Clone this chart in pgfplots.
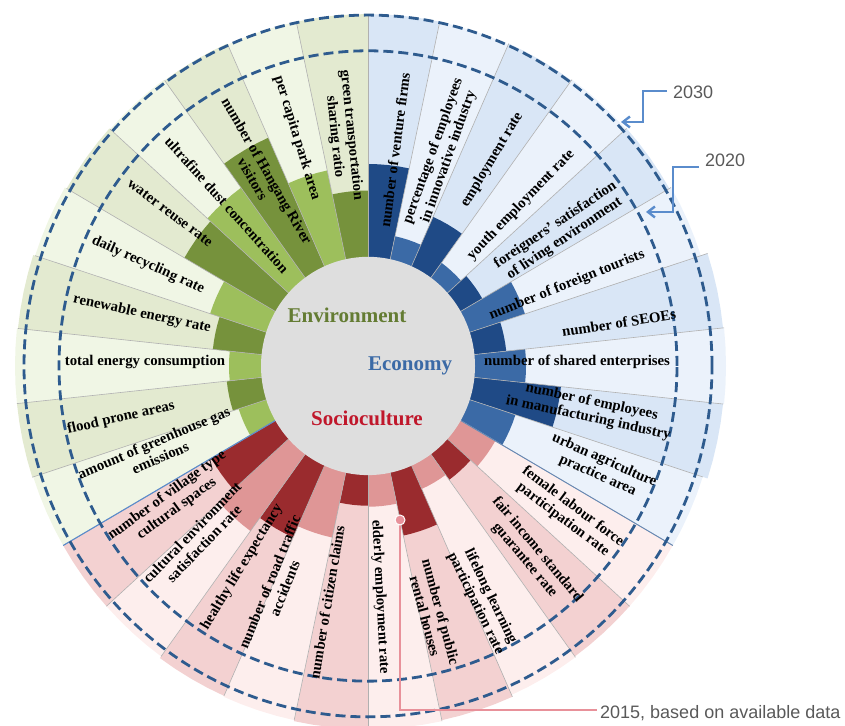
\documentclass[border=0pt]{standalone}
\usepackage{pgfplots}
\usepackage{pgfplotstable}
\usepackage{fontspec}
\setmainfont{Liberation Serif}
\newfontfamily\annfont{Liberation Sans}
\usetikzlibrary{arrows.meta}
\pgfplotsset{compat=1.18}

\definecolor{ecoD}{HTML}{1F4A86}
\definecolor{ecoM}{HTML}{3B6AA6}
\definecolor{ecoA}{HTML}{D9E6F6}
\definecolor{ecoB}{HTML}{EBF2FB}
\definecolor{socD}{HTML}{9A2B2E}
\definecolor{socM}{HTML}{DF9696}
\definecolor{socA}{HTML}{F3D1D1}
\definecolor{socB}{HTML}{FDEEED}
\definecolor{envD}{HTML}{76923C}
\definecolor{envM}{HTML}{9DBF5C}
\definecolor{envA}{HTML}{E3EAD0}
\definecolor{envB}{HTML}{F0F6E5}
\definecolor{sepgray}{HTML}{B0B0B0}
\definecolor{ringblue}{HTML}{2E5B8E}
\definecolor{callblue}{HTML}{5A8CCC}
\definecolor{callpink}{HTML}{E8919A}
\definecolor{centergray}{HTML}{DEDEDE}
\definecolor{anngray}{HTML}{595959}

% sector centre angle, 2015 bar radius, outer radius, cell colour, bar colour
\pgfplotstableread{
ang  r    ro   bg   bar
84   198  345  ecoA ecoD
72   130  345  ecoB ecoM
60   160  346  ecoA ecoD
48   125  347  ecoB ecoM
36   132  348  ecoA ecoD
24   165  350  ecoB ecoM
12   139  357  ecoA ecoD
0    158  358  ecoB ecoM
-12  194  357  ecoA ecoD
-24  155  352  ecoB ecoM
-36  147  352  socB socM
-48  138  352  socA socD
-60  132  353  socB socM
-72  170  355  socA socD
-84  138  356  socB socM
-96  137  356  socA socD
-108 172  355  socB socM
-120 184  354  socA socD
-132 200  352  socB socM
-144 181  352  socA socD
204  136  352  envB envM
192  142  353  envA envD
180  139  353  envB envM
168  156  352  envA envD
156  166  350  envB envM
144  212  348  envA envD
132  216  347  envB envM
120  245  346  envA envD
108  196  345  envB envM
96   172  345  envA envD
}\sectors

\begin{document}
\begin{tikzpicture}
\begin{axis}[
    name=ax,
    hide axis,
    x=1pt, y=1.02pt,
    xmin=-368, xmax=477,
    ymin=-352.9, ymax=358.8,
    clip=false,
]
% cells and 2015 bars
\pgfplotsinvokeforeach{0,...,29}{%
  \pgfplotstablegetelem{#1}{ang}\of\sectors\let\ang\pgfplotsretval
  \pgfplotstablegetelem{#1}{r}\of\sectors\let\rb\pgfplotsretval
  \pgfplotstablegetelem{#1}{ro}\of\sectors\let\ro\pgfplotsretval
  \pgfplotstablegetelem{#1}{bg}\of\sectors\let\bgc\pgfplotsretval
  \pgfplotstablegetelem{#1}{bar}\of\sectors\let\barc\pgfplotsretval
  \pgfmathsetmacro\aa{\ang+6}\pgfmathsetmacro\ab{\ang-6}%
  \pgfmathsetmacro\am{\ang+3}\pgfmathsetmacro\an{\ang-3}%
  \edef\tmp{%
    \noexpand\addplot[draw=none,fill=\bgc,data cs=polar] coordinates
      {(0,0) (\aa,\ro) (\am,\ro) (\ang,\ro) (\an,\ro) (\ab,\ro)};
    \noexpand\addplot[draw=none,fill=\barc,data cs=polar] coordinates
      {(\aa,100) (\aa,\rb) (\am,\rb) (\ang,\rb) (\an,\rb) (\ab,\rb) (\ab,100)};
  }\tmp
}
% sector separators
\pgfplotsinvokeforeach{0,...,29}{%
  \pgfplotstablegetelem{#1}{ang}\of\sectors\let\ang\pgfplotsretval
  \pgfplotstablegetelem{#1}{ro}\of\sectors\let\ro\pgfplotsretval
  \pgfmathsetmacro\aa{\ang+6}%
  \edef\tmp{%
    \noexpand\addplot[draw=sepgray,line width=0.6pt,data cs=polar] coordinates
      {(\aa,107) (\aa,\ro)};
  }\tmp
}
\addplot[draw=callblue,line width=1.1pt,data cs=polar] coordinates {(210,107) (210,352)};
\addplot[draw=callblue!70!gray,line width=0.9pt,data cs=polar] coordinates {(-30,107) (-30,352)};

% 2020 and 2030 rings
\draw[ringblue,line width=2.8pt,dash pattern=on 10pt off 5pt] (axis cs:0,0) circle[radius=309];
\draw[ringblue,line width=2.8pt,dash pattern=on 10pt off 5pt] (axis cs:0,0) circle[radius=344];

% centre disc
\fill[centergray] (axis cs:0,0) circle[radius=107];
\node[font=\fontsize{21}{22}\selectfont\bfseries,text=envD!85!black] at (axis cs:-21,50) {Environment};
\node[font=\fontsize{21}{22}\selectfont\bfseries,text=ecoM] at (axis cs:42,0) {Economy};
\node[font=\fontsize{21}{22}\selectfont\bfseries,text={rgb,255:red,192;green,23;blue,43}] at (axis cs:-1,-51) {Socioculture};

% indicator labels: x, y, rotation, text
\foreach \px/\py/\rot/\t in {
  27/211.8/82.5/{number of venture firms},
  73/207.8/70.4/{percentage of employees\\in innovative industry},
  124/202/59/{employment rate},
  153/157.8/46/{youth employment rate},
  192/131.4/34/{foreigners' satisfaction\\of living environment},
  199/79.4/22/{number of foreign tourists},
  251/42.2/9/{number of SEOEs},
  209/3.9/0/{number of shared enterprises},
  222/-43.1/-12/{number of employees\\in manufacturing industry},
  233/-100/-24/{urban agriculture\\practice area},
  200/-144.1/-37/{female labour force\\participation rate},
  163/-185.3/-50/{fair income standard\\guarantee rate},
  115/-229.4/-64/{lifelong learning\\participation rate},
  65/-243.1/-75/{number of public\\rental houses},
  12/-226.5/-87/{elderly employment rate},
  -41/-231.4/80.5/{number of citizen claims},
  -91/-214.7/68/{number of road traffic\\accidents},
  -126/-197/58.6/{healthy life expectancy},
  -170/-168.6/46/{cultural environment\\satisfaction rate},
  -196/-133.3/36/{number of village type\\cultural spaces},
  -211/-82.4/23/{amount of greenhouse gas\\emissions},
  -247/-51/13/{flood prone areas},
  -223/3.9/0/{total energy consumption},
  -226/51/-12/{renewable energy rate},
  -220/99/-24/{daily recycling rate},
  -198/150/-37/{water reuse rate},
  -141/157.8/-48/{ultrafine dust concentration},
  -108/187.3/-60/{number of Hangang River\\visitors},
  -71/223.5/-73/{per capita park area},
  -25/225.5/-84/{green transportation\\sharing ratio}}{
  \edef\tmp{\noexpand\node[font=\noexpand\fontsize{14.8}{16.5}\noexpand\selectfont\noexpand\bfseries,
    align=center,inner sep=0pt,rotate=\rot] at (axis cs:\px,\py) {\unexpanded\expandafter{\t}};}%
  \tmp
}

% call-outs
\draw[callblue,line width=2.4pt,-{Straight Barb[length=7pt,width=11pt]}]
  (axis cs:299,269.6) -- (axis cs:275,269.6) -- (axis cs:275,239.2) -- (axis cs:253,239.2);
\node[anchor=west,font=\annfont\fontsize{18}{18}\selectfont,text=anngray,inner sep=0pt]
  at (axis cs:305,268.6) {2030};
\draw[callblue,line width=2.4pt,-{Straight Barb[length=7pt,width=11pt]}]
  (axis cs:331,195.1) -- (axis cs:305,195.1) -- (axis cs:305,151) -- (axis cs:278,151);
\node[anchor=west,font=\annfont\fontsize{18}{18}\selectfont,text=anngray,inner sep=0pt]
  at (axis cs:337,202) {2020};
\draw[callpink,line width=2pt] (axis cs:32,-151) -- (axis cs:32,-337.3) -- (axis cs:229,-337.3);
\addplot[only marks,mark=*,mark size=5pt,mark options={fill=callpink,draw=white,line width=1pt}]
  coordinates {(32,-151)};
\node[anchor=west,font=\annfont\fontsize{18}{18}\selectfont,text=anngray,inner sep=0pt]
  at (axis cs:232,-340.2) {2015, based on available data};
\end{axis}
\pgfresetboundingbox
\useasboundingbox (ax.south west) rectangle (ax.north east);
\end{tikzpicture}
\end{document}
